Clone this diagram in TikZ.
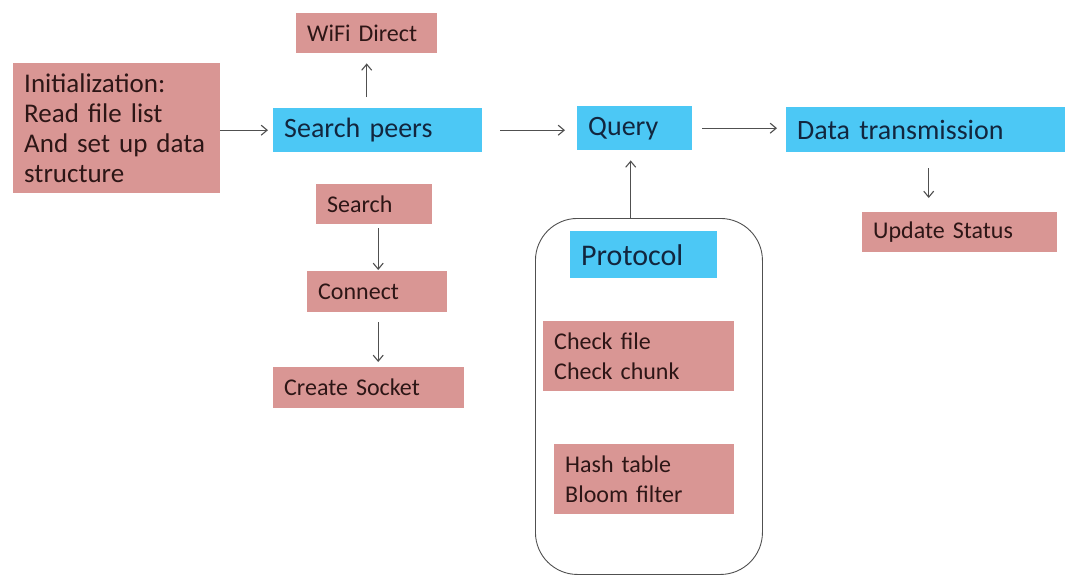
\documentclass[tikz,border=0pt]{standalone}
\usepackage{fontspec}
\setmainfont{Carlito}
\usetikzlibrary{arrows.meta}
\definecolor{pinkfill}{RGB}{217,150,148}
\definecolor{bluefill}{RGB}{76,200,245}
\definecolor{pinktext}{RGB}{45,22,22}
\definecolor{bluetext}{RGB}{18,38,62}
\definecolor{linegray}{RGB}{80,80,80}
\tikzset{
  box/.style={rectangle, anchor=north west, inner xsep=11pt, inner ysep=0pt, align=left},
  pinkbox/.style={box, fill=pinkfill, text=pinktext, font=\fontsize{24}{30}\selectfont},
  bluebox/.style={box, fill=bluefill, text=bluetext, font=\fontsize{28}{32}\selectfont},
  arr/.style={draw=linegray, line width=1.1pt, -{Straight Barb[length=6pt,width=10pt]}},
}
\begin{document}
\begin{tikzpicture}[x=1pt, y=-1pt]
\useasboundingbox (0,0) rectangle (1065,576);

% left column: initialization and peer discovery
\node[pinkbox, font=\fontsize{27}{30}\selectfont, minimum width=207pt, minimum height=130pt, text width=185pt] (init) at (13,63)
  {Initialization:\\Read file list\\And set up data\\structure};
\node[bluebox, minimum width=209pt, minimum height=44pt, text width=187pt] (peers) at (273,108) {Search peers};
\node[pinkbox, minimum width=141pt, minimum height=40pt, text width=119pt] (wifi) at (296,13) {WiFi Direct};
\node[pinkbox, minimum width=116pt, minimum height=40pt, text width=94pt] (search) at (316,184) {Search};
\node[pinkbox, minimum width=140pt, minimum height=41pt, text width=118pt] (connect) at (307,271) {Connect};
\node[pinkbox, minimum width=191pt, minimum height=41pt, text width=169pt] (socket) at (273,367) {Create Socket};

% query and protocol group
\node[bluebox, minimum width=115pt, minimum height=44pt, text width=93pt] (query) at (577,106) {Query};
\node[draw=linegray, line width=0.9pt, rounded corners=42pt, anchor=north west,
      minimum width=227pt, minimum height=356pt, inner sep=0pt] (frame) at (535,218) {};
\node[bluebox, font=\fontsize{30}{34}\selectfont, minimum width=147pt, minimum height=47pt, text width=125pt] (protocol) at (570,231) {Protocol};
\node[pinkbox, minimum width=191pt, minimum height=70pt, text width=169pt] (check) at (543,321) {Check file\\Check chunk};
\node[pinkbox, minimum width=180pt, minimum height=70pt, text width=158pt] (hash) at (554,444) {Hash table\\Bloom filter};

% transfer
\node[bluebox, minimum width=279pt, minimum height=45pt, text width=257pt] (data) at (786,107) {Data transmission};
\node[pinkbox, minimum width=195pt, minimum height=40pt, text width=173pt] (update) at (862,212) {Update Status};

% connectors
\draw[arr, shorten >=5pt] (init.east |- peers.west) -- (peers.west);
\draw[arr, shorten <=11pt, shorten >=10pt] (wifi.south |- peers.north) -- (wifi.south);
\draw[arr, shorten <=18pt, shorten >=12pt] (peers.east) -- (query.west |- peers.east);
\draw[arr, shorten <=10pt, shorten >=9pt] (query.east) -- (data.west |- query.east);
\draw[arr, shorten <=16pt, shorten >=14pt] ([xshift=3pt]data.south) -- ([xshift=3pt]data.south |- update.north);
\draw[arr, shorten <=4pt, shorten >=1pt] ([xshift=4pt]search.south) -- ([xshift=4pt]search.south |- connect.north);
\draw[arr, shorten <=10pt, shorten >=5pt] ([xshift=1pt]connect.south) -- ([xshift=1pt]connect.south |- socket.north);
\draw[arr, shorten >=10pt] ([xshift=-4pt]query.south |- frame.north) -- ([xshift=-4pt]query.south);
\end{tikzpicture}
\end{document}
